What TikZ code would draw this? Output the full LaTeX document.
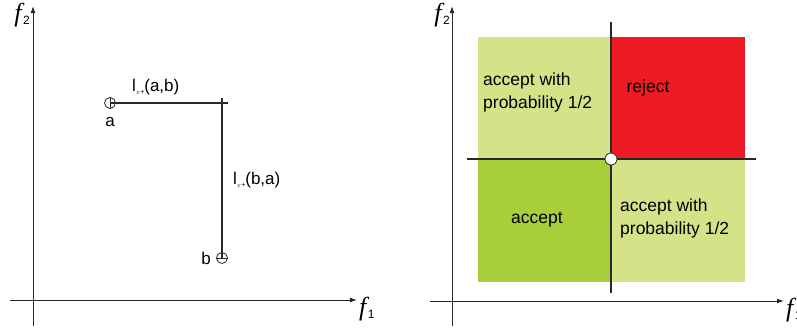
\documentclass[tikz,border=0pt]{standalone}
\usepackage{fontspec}
\setmainfont{Liberation Sans}
\newfontfamily\axisfont{Liberation Serif}
\usetikzlibrary{arrows.meta,positioning}
\definecolor{paleaccept}{RGB}{214,226,135}
\definecolor{rejectred}{RGB}{237,28,36}
\definecolor{acceptgreen}{RGB}{168,206,58}
\definecolor{linegray}{RGB}{40,40,40}
\tikzset{
    % axes with small filled arrow tips
    axis/.style={-{Latex[length=7pt,width=5pt]},line width=1pt,linegray},
    axislabel/.style={inner sep=0pt,font=\fontsize{26}{26}\selectfont},
    % the two segments of the left picture
    segment/.style={line width=1.8pt,linegray},
    endpoint/.style={circle,draw=linegray,fill=white,line width=0.8pt,
                     minimum size=11pt,inner sep=0pt},
    ptlabel/.style={font=\fontsize{17}{17}\selectfont,inner sep=1pt},
    % quadrant boxes of the right picture
    regiontext/.style={font=\fontsize{17.5}{23}\selectfont,align=left,inner sep=0pt},
    divider/.style={line width=2pt,linegray},
}
\newcommand{\faxis}[1]{{\axisfont\itshape f}\kern1.5pt{\fontsize{12}{12}\selectfont\raisebox{-3pt}{#1}}}
\newcommand{\lset}[1]{l\kern0.5pt{\fontsize{7}{7}\selectfont\raisebox{-3pt}{$\varepsilon$+}}#1}
\begin{document}
\begin{tikzpicture}[x=1pt,y=-1pt]
  \useasboundingbox (0,0) rectangle (797,333);
  % left picture
  \draw[axis] (33,326) coordinate (ly0) -- (33,6) coordinate (ly1);
  \draw[axis] (10,300) coordinate (lx0) -- (357,300) coordinate (lx1);
  \node[axislabel,anchor=north east] (lf2) at (30,3) {\faxis{2}};
  \node[axislabel,anchor=north west] (lf1) at (359,297) {\faxis{1}};
  \node[endpoint] (a) at (110,103) {};
  \node[endpoint] (b) at (222,258) {};
  \coordinate (tickend) at (228,103);
  \coordinate (ticktop) at (222,98);
  \draw[segment] (a.center) -- (tickend);
  \draw[segment] (ticktop) -- (b.center);
  \draw[line width=0.8pt,linegray] (a.north) -- (a.south);
  \draw[line width=0.8pt,linegray] (b.west) -- (b.east);
  \node[ptlabel,below=7pt of a] (alab) {a};
  \node[ptlabel,left=4pt of b] (blab) {b};
  \node[ptlabel,anchor=south west] (lab) at (131,96) {\lset{(a,b)}};
  \node[ptlabel,anchor=west] (lba) at (232,180) {\lset{(b,a)}};
  % right picture
  \fill[paleaccept] (478,37) rectangle (611,159);
  \fill[rejectred] (611,37) rectangle (745,159);
  \fill[acceptgreen] (478,159) rectangle (611,282);
  \fill[paleaccept] (611,159) rectangle (745,282);
  \draw[axis] (452,326) coordinate (ry0) -- (452,6) coordinate (ry1);
  \draw[axis] (430,301) coordinate (rx0) -- (784,301) coordinate (rx1);
  \node[axislabel,anchor=north east] (rf2) at (450,3) {\faxis{2}};
  \node[axislabel,anchor=north west] (rf1) at (786,298) {\faxis{1}};
  \draw[divider] (611,22) coordinate (vtop) -- (611,293) coordinate (vbot);
  \draw[divider] (467,159) coordinate (hleft) -- (756,159) coordinate (hright);
  \node[endpoint,minimum size=12pt] (origin) at (611,159) {};
  \node[regiontext,anchor=west] (tl) at (483,92) {accept with\\probability 1/2};
  \node[regiontext] (tr) at (648,88) {reject};
  \node[regiontext] (bl) at (537,220) {accept};
  \node[regiontext,anchor=west] (br) at (620,218) {accept with\\probability 1/2};
\end{tikzpicture}
\end{document}
